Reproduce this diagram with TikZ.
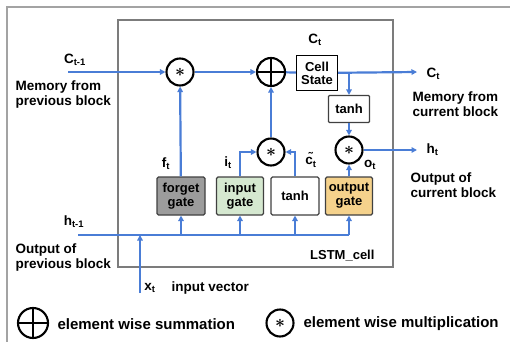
\documentclass[tikz,border=0pt]{standalone}
\usepackage{fontspec}
\setmainfont{Liberation Sans}
\usepackage{xcolor}
\usetikzlibrary{arrows.meta}
\definecolor{lstmblue}{HTML}{4A7DD6}
\definecolor{lstmframe}{HTML}{7C7C7C}
\definecolor{forgetfill}{HTML}{9C9C9C}
\definecolor{inputfill}{HTML}{D5E8D0}
\definecolor{outputfill}{HTML}{F5D28C}
\newcommand{\mulsym}{{\LARGE\boldmath$\ast$}}

\begin{document}
\begin{tikzpicture}[x=1pt, y=-1pt, >={Triangle[length=5.5pt,width=5.5pt]},
                    every node/.style={font=\fontsize{13.5}{15}\selectfont\bfseries},
                    flow/.style={lstmblue, line width=2.2pt},
                    gatebox/.style={draw=black!75, line width=1.1pt, rounded corners=1.5pt,
                                    minimum width=48pt, minimum height=38pt, inner sep=1pt,
                                    align=center, font=\fontsize{13}{14}\selectfont\bfseries},
                    mult/.style={circle, draw, line width=2.1pt, fill=white,
                                 minimum size=27pt, inner sep=0pt},
                    plus/.style={circle, draw, line width=2.1pt, fill=white,
                                 minimum size=28pt, inner sep=0pt,
                                 path picture={\draw[line width=2.1pt]
                                   (path picture bounding box.north) -- (path picture bounding box.south)
                                   (path picture bounding box.west) -- (path picture bounding box.east);}}]

  \useasboundingbox (0,0) rectangle (510,342);

  %% 外框與 LSTM 單元
  \draw[lstmframe!70, line width=1.2pt] (510,7) -- (7,7) -- (7,342);
  \draw[lstmframe, line width=1.8pt] (118,20) rectangle (393,267);
  \node[anchor=east, font=\fontsize{13}{14}\selectfont\bfseries] (celltag) at (378,256) {LSTM\_cell};

  %% 各個閘與運算節點
  \node[gatebox, fill=forgetfill] (forget) at (181,196) {forget\\gate};
  \node[gatebox, fill=inputfill, minimum width=47pt] (input) at (240,196) {input\\gate};
  \node[gatebox, fill=white] (tanhin) at (295,196) {tanh};
  \node[gatebox, fill=outputfill, minimum width=47pt] (output) at (349,196) {output\\gate};

  \node[mult] (mulf) at (180,72) {\mulsym};
  \node[plus] (add) at (271,72) {};
  \node[mult] (muli) at (271,152) {\mulsym};
  \node[mult] (mulo) at (349,150) {\mulsym};

  \node[draw, line width=1.3pt, minimum width=41pt, minimum height=35pt, inner sep=1pt,
        align=center, font=\fontsize{13}{13}\selectfont\bfseries] (cell) at (317,73) {Cell\\State};
  \node[gatebox, fill=white, minimum width=41pt, minimum height=27pt, rounded corners=1pt] (tanhout) at (349,109) {tanh};

  %% 進出的端點
  \coordinate (cin) at (68,72);
  \coordinate (cout) at (417,72);
  \coordinate (hout) at (417,150);
  \coordinate (hin) at (78,235);
  \coordinate (bus) at (349,235);
  \coordinate (xin) at (140,293);
  \coordinate (xjoin) at (140,235);
  \coordinate (split) at (349,72);

  %% 記憶線
  \draw[flow, ->] (cin) -- (mulf);
  \draw[flow, ->] (mulf) -- (add);
  \draw[flow] (add) -- (cell);
  \draw[flow, ->] (cell) -- (cout);
  \draw[flow, ->] (split) -- (tanhout);
  \draw[flow, ->] (tanhout) -- (mulo);
  \draw[flow, ->] (mulo) -- (hout);

  %% 閘的輸出
  \draw[flow, ->] (forget) -- (mulf);
  \draw[flow, ->] (input.north) |- (muli.west);
  \draw[flow, ->] (tanhin.north) |- (muli.east);
  \draw[flow, ->] (muli) -- (add);
  \draw[flow, ->] (output) -- (mulo);

  %% 輸入匯流線
  \draw[flow] (hin) -- (bus);
  \draw[flow, ->] (xin) -- (xjoin);
  \foreach \gate in {forget, input, tanhin, output}
    \draw[flow, ->] (\gate.south |- hin) -- (\gate.south);

  %% 標示
  \node (cinlabel) at (75,60) {C\textsubscript{t-1}};
  \node[anchor=west, align=left] (cintext) at (12,95) {Memory from\\previous block};
  \node (hinlabel) at (74,222) {h\textsubscript{t-1}};
  \node[anchor=west, align=left] (hintext) at (12,258) {Output of\\previous block};
  \node (xlabel) at (150,288) {x\textsubscript{t}};
  \node[anchor=west] (xtext) at (168,288) {input vector};
  \node (ctop) at (315,40) {C\textsubscript{t}};
  \node[anchor=west] (coutlabel) at (423,74) {C\textsubscript{t}};
  \node[anchor=west, align=left] (couttext) at (409,104) {Memory from\\current block};
  \node[anchor=west] (houtlabel) at (423,150) {h\textsubscript{t}};
  \node[anchor=west, align=left] (houttext) at (407,185) {Output of\\current block};
  \node (flabel) at (166,164) {f\textsubscript{t}};
  \node (ilabel) at (228,163) {i\textsubscript{t}};
  \node[inner sep=1pt] (clabel) at (311,160) {\~{c}\textsubscript{t}};
  \node (olabel) at (370,165) {o\textsubscript{t}};

  %% 圖例
  \node[plus, minimum size=30pt] (addkey) at (33,323) {};
  \node[anchor=west, font=\fontsize{15}{16}\selectfont\bfseries] (addtext) at (54,324) {element wise summation};
  \node[mult] (mulkey) at (280,323) {\mulsym};
  \node[anchor=west, font=\fontsize{15}{16}\selectfont\bfseries] (multext) at (300,324) {element wise multiplication};

\end{tikzpicture}
\end{document}
